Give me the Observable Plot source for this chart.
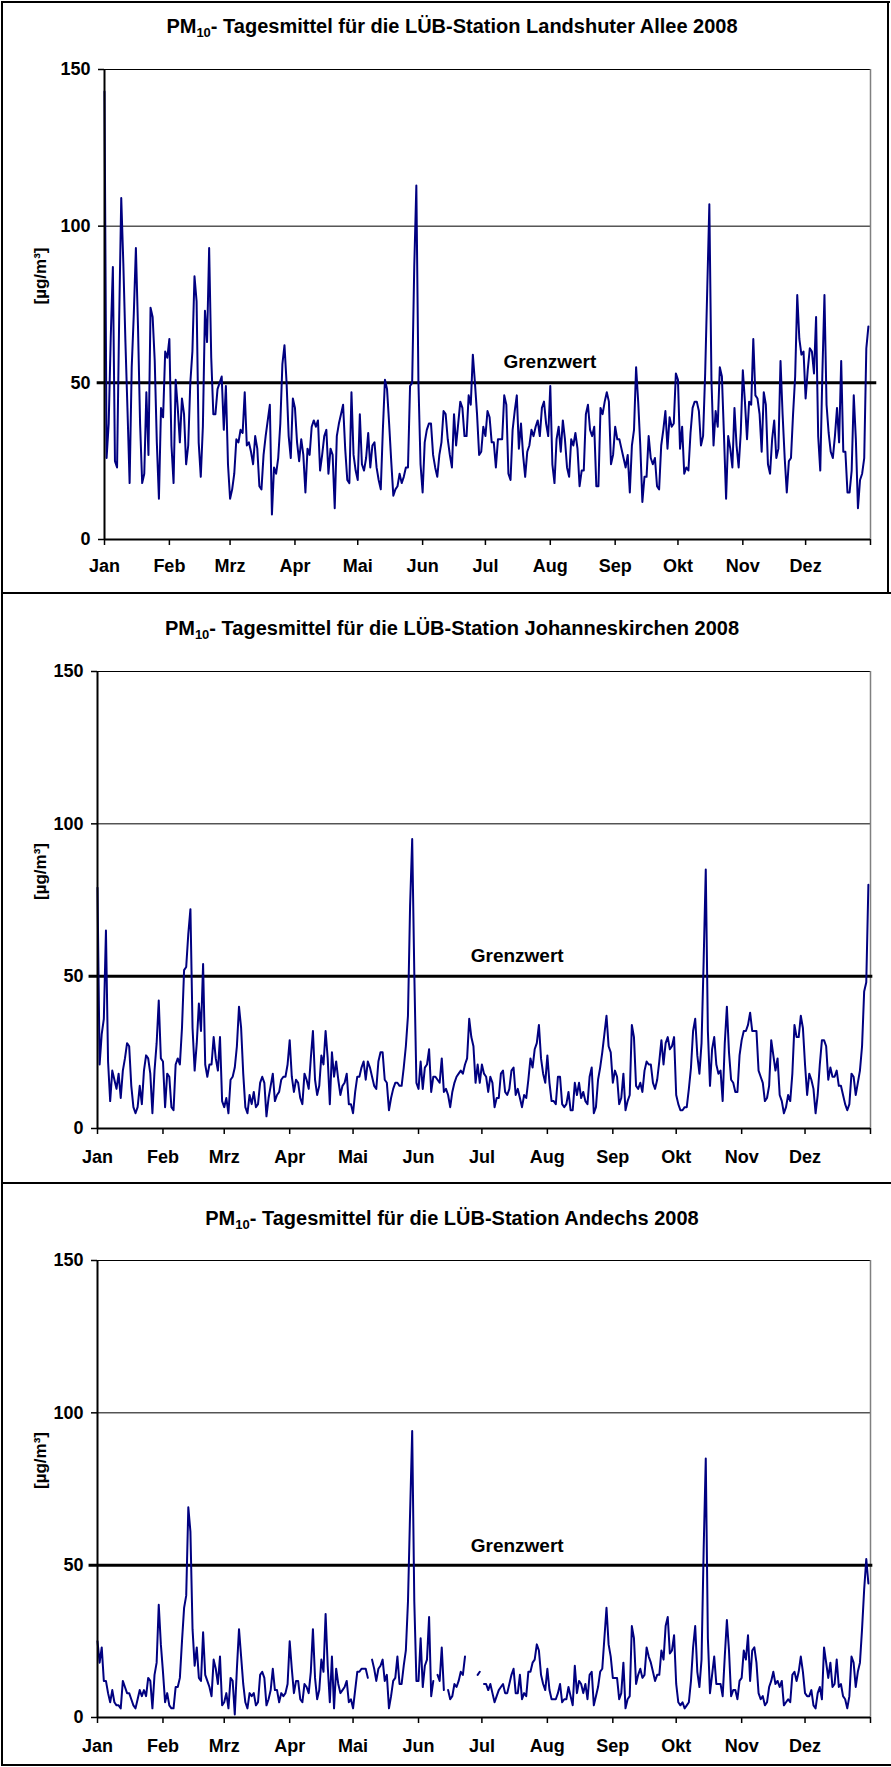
<!DOCTYPE html>
<html><head><meta charset="utf-8">
<script src="https://cdn.jsdelivr.net/npm/d3@7"></script>
<script src="https://cdn.jsdelivr.net/npm/@observablehq/plot@0.6"></script>
<style>
body{margin:0;background:#fff;}
#page{position:relative;width:891px;height:1767px;overflow:hidden;background:#fff;font-family:"Liberation Sans",Arial,sans-serif;}
.title{position:absolute;left:0;width:904px;text-align:center;font-weight:bold;font-size:20px;line-height:24px;color:#000;white-space:nowrap;}
.title .sub{font-size:13px;vertical-align:-4px;}
.hl{position:absolute;background:#000;}
.panel{position:absolute;left:0;}
</style></head>
<body><div id="page"></div>
<script>
const months = ["Jan","Feb","Mrz","Apr","Mai","Jun","Jul","Aug","Sep","Okt","Nov","Dez"];
const monthStarts = [0,31,60,91,121,152,182,213,244,274,305,335,366];
const yTicks = [0,50,100,150];
const limitValue = 50;
const gridValues = [100,150];
const titles = [
  "Landshuter Allee 2008",
  "Johanneskirchen 2008",
  "Andechs 2008"
];
const landshuter = [
143,26,37,65,87,25,23,70,109,88,
63,41,18,55,72,93,68,37,18,21,
47,27,74,71,57,31,13,42,39,60,
58,64,30,18,51,42,31,45,40,24,
30,50,60,84,76,31,20,36,73,63,
93,58,40,40,48,50,52,35,49,24,
13,16,21,32,31,35,34,47,30,31,
28,24,33,29,17,16,27,33,38,43,
8,23,21,26,37,56,62,50,33,26,
45,42,31,25,32,27,15,29,27,36,
38,36,38,22,27,33,35,21,29,27,
10,33,37,40,43,29,19,18,47,27,
22,19,40,24,22,26,34,23,30,31,
23,19,16,35,51,48,37,25,14,16,
17,21,18,20,23,23,49,50,87,113,
50,24,15,31,35,37,37,27,23,20,
27,31,41,40,32,27,23,40,30,37,
44,42,33,33,46,43,59,50,40,27,
28,36,33,41,39,31,31,23,32,32,
32,46,43,21,19,35,41,46,29,37,
27,20,28,30,35,33,36,38,33,42,
44,37,33,49,24,18,32,36,28,38,
32,23,20,32,30,34,29,17,22,22,
40,43,35,33,36,17,17,42,40,44,
47,44,24,27,36,32,32,29,26,23,
27,15,30,35,55,44,30,12,20,20,
33,26,24,26,17,16,30,35,41,29,
39,36,37,53,51,29,36,21,23,22,
34,42,44,44,41,30,33,53,80,107,
51,30,41,36,55,52,33,13,33,29,
23,42,30,23,34,54,44,32,44,43,
64,46,45,40,28,47,43,24,21,32,
38,26,29,57,40,26,15,25,26,40,
52,78,64,59,60,45,54,61,60,53,
71,33,22,53,78,43,34,28,26,33,
42,31,57,28,28,15,15,22,46,32,
10,19,21,26,61,68];
const johanneskirchen = [
79,21,31,36,65,22,9,19,16,13,
18,10,19,23,28,27,14,7,5,7,
14,8,19,24,23,18,5,19,28,42,
23,22,7,18,17,7,6,21,23,21,
33,52,53,64,72,33,19,28,41,32,
54,21,17,21,21,30,23,19,30,9,
7,10,5,16,17,20,27,40,33,18,
7,5,11,8,12,7,8,15,17,15,
4,10,14,18,9,11,12,16,17,17,
21,29,17,12,16,15,10,8,18,16,
13,23,32,16,11,14,24,21,32,23,
8,25,17,22,16,11,14,15,18,8,
8,5,12,17,17,20,22,16,22,20,
17,14,13,22,25,25,16,15,6,10,
13,15,15,14,14,20,27,37,73,95,
51,15,13,22,13,20,21,26,12,17,
17,16,15,23,12,13,11,7,12,15,
17,18,19,18,21,23,36,30,27,15,
21,15,21,18,17,12,17,15,7,10,
10,18,19,12,11,13,19,20,11,13,
10,7,11,10,16,23,20,26,28,34,
23,18,15,24,15,9,9,8,17,17,
8,7,8,12,6,6,15,11,15,10,
12,9,8,17,20,5,7,16,20,25,
31,37,27,25,15,19,17,8,10,18,
6,9,11,34,30,14,13,15,12,19,
22,21,21,15,13,16,22,29,21,28,
30,26,27,30,11,8,6,6,7,7,
13,20,32,36,24,18,28,55,85,32,
14,26,30,21,18,19,9,28,40,25,
16,15,12,12,24,29,32,32,34,38,
32,32,32,19,17,15,9,10,14,29,
24,19,23,11,9,5,7,11,9,18,
34,30,30,37,33,21,11,18,16,13,
5,11,21,29,29,27,16,20,17,17,
19,14,14,11,8,6,8,18,17,11,
15,19,27,45,48,80];
const andechs = [
25,18,23,12,12,8,5,9,5,4,
4,3,12,10,8,8,6,4,3,6,
9,7,9,7,13,12,3,14,18,37,
24,15,5,8,4,3,3,10,10,13,
25,36,40,69,61,29,17,23,13,12,
28,14,12,10,7,19,16,11,20,4,
5,8,3,13,12,1,16,29,20,11,
5,3,8,7,8,4,5,14,15,13,
4,6,9,16,9,9,5,8,7,8,
11,25,16,8,12,12,6,5,11,10,
8,15,29,13,6,9,19,15,34,17,
5,20,3,16,11,8,9,10,12,5,
6,3,9,15,15,16,16,16,13,null,
19,16,12,16,17,19,12,14,3,7,
12,13,20,11,11,17,22,38,67,94,
38,12,12,26,10,17,19,33,7,12,
null,14,12,23,9,null,9,6,7,11,
10,12,15,14,20,null,null,null,null,null,
14,15,null,11,11,9,11,8,5,7,
9,10,11,8,8,11,14,16,8,8,
14,6,8,7,15,15,18,19,24,22,
14,11,9,16,9,6,6,6,8,11,
5,6,6,10,7,4,17,8,12,11,
8,11,6,14,15,4,7,10,15,16,
26,36,24,20,13,13,13,6,8,18,
3,6,7,30,26,11,14,16,13,14,
23,20,18,15,12,14,14,22,19,30,
33,21,22,27,11,5,4,5,3,4,
5,12,23,30,15,10,19,55,85,26,
8,14,20,11,11,11,7,20,32,22,
7,9,9,6,12,13,22,19,27,12,
22,23,18,8,6,7,4,5,10,12,
15,11,12,10,12,4,5,6,5,14,
15,12,15,20,15,8,7,7,9,4,
3,8,10,6,23,18,13,18,10,11,
19,10,11,7,6,3,7,20,18,10,
15,18,29,42,52,44];

const page = document.getElementById("page");
const labelOf = new Map(monthStarts.slice(0,12).map((d,i)=>[d, months[i]]));

const panels = [
  {values: landshuter, title: titles[0], svgTop: 49, height: 536, left: 104, titleY: 26, gx: 212.8, gdy: -21, g1: -3.5, g2: 369, pad: 14},
  {values: johanneskirchen, title: titles[1], svgTop: 651, height: 523, left: 97, titleY: 628, gx: 198.7, gdy: -20, g1: -4, g2: 367.1, pad: 16},
  {values: andechs, title: titles[2], svgTop: 1240, height: 523, left: 97, titleY: 1218, gx: 198.7, gdy: -19, g1: -4, g2: 367.1, pad: 16}
];

for (const p of panels) {
  const data = p.values.map((v,i)=>({day:i, v}));
  const plot = Plot.plot({
    width: 891, height: p.height,
    marginLeft: p.left, marginRight: 21, marginTop: 20, marginBottom: 46,
    x: {domain:[0,366], axis:null},
    y: {domain:[0,150], axis:null},
    style: {fontFamily: "'Liberation Sans', Arial, sans-serif", fontWeight: "bold", fontSize: "18px", color: "#000", background: "transparent", overflow: "visible"},
    marks: [
      Plot.ruleY(gridValues, {stroke:"#000", strokeWidth:1}),
      Plot.ruleX([366], {stroke:"#808080", strokeWidth:1.5}),
      Plot.ruleY([{y: limitValue, x1: p.g1, x2: p.g2}], {y:"y", x1:"x1", x2:"x2", stroke:"#000", strokeWidth:3}),
      Plot.line(data, {x:"day", y:"v", stroke:"#000080", strokeWidth:2}),
      Plot.ruleX([0], {stroke:"#000", strokeWidth:2}),
      Plot.ruleY([0], {stroke:"#000", strokeWidth:2}),
      Plot.axisY({ticks: yTicks, tickSize: 6, tickPadding: 8, fontSize: 18, fontWeight: "bold", strokeWidth: 1.5}),
      Plot.axisX({ticks: monthStarts, tickSize: 6, tickPadding: p.pad, fontSize: 18, fontWeight: "bold", strokeWidth: 1.5, tickFormat: d => labelOf.get(d) ?? ""}),
      Plot.text(["Grenzwert"], {x: p.gx, y: limitValue, dy: p.gdy, text: d => d, fontSize: 19, fontWeight: "bold", textAnchor: "middle"}),
      Plot.text(["[µg/m³]"], {frameAnchor: "left", dx: 40 - p.left, rotate: -90, text: d => d, fontSize: 17, fontWeight: "bold"})
    ]
  });
  plot.classList.add("panel");
  plot.style.top = p.svgTop + "px";
  page.appendChild(plot);
  const t = document.createElement("div");
  t.className = "title";
  t.style.top = (p.titleY - 12) + "px";
  t.innerHTML = 'PM<span class="sub">10</span>- Tagesmittel für die LÜB-Station ' + p.title;
  page.appendChild(t);
}

function line(x, y, w, h) {
  const d = document.createElement("div");
  d.className = "hl";
  Object.assign(d.style, {left: x+"px", top: y+"px", width: w+"px", height: h+"px"});
  page.appendChild(d);
}
line(1, 1, 889, 2);
line(1, 1, 2, 1765);
line(887, 1, 2, 593);
line(1, 592, 890, 2);
line(1, 1182, 890, 2);
line(1, 1764, 890, 2);
</script>
</body></html>
